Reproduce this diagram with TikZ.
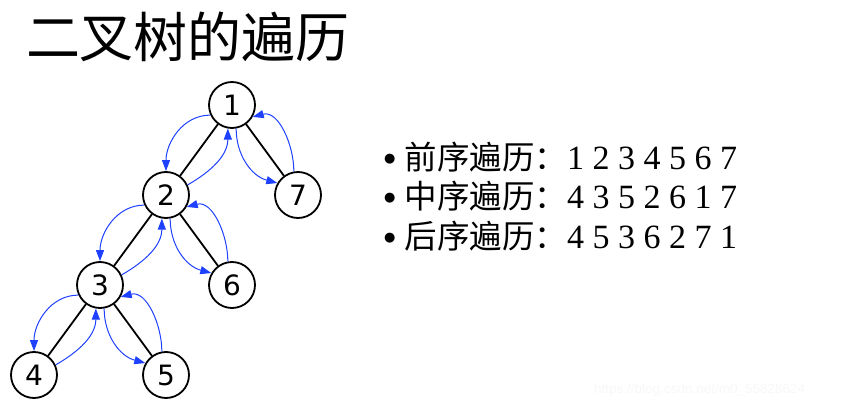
\documentclass[tikz,border=0pt]{standalone}
\usepackage{fontspec}
\setmainfont{Liberation Serif}
\newfontfamily\cjk{Noto Sans CJK SC}
\newfontfamily\digitfont{DejaVu Sans}
\newfontfamily\markfont{Liberation Sans}
\usetikzlibrary{positioning,arrows.meta}
\definecolor{travblue}{RGB}{30,64,255}
\newcommand{\dotmark}{\raisebox{6.5pt}{\digitfont\fontsize{13}{13}\selectfont ●}}

\begin{document}
\begin{tikzpicture}[x=1pt,y=1pt]
 \tikzstyle{vertex} = [circle,draw=black,line width=1.8pt,minimum size=46pt,inner sep=0pt,font=\digitfont\fontsize{28}{28}\selectfont];
 \tikzstyle{branch} = [draw=black,line width=1.8pt];
 \tikzstyle{walk}   = [->,>={Triangle[length=11pt,width=8pt]},draw=travblue,line width=1pt];
 \tikzstyle{order}  = [anchor=base west,inner sep=0pt,font=\fontsize{34}{40}\selectfont];

 \useasboundingbox (0,0) rectangle (852,408);

 %% title
 \node[font=\cjk\fontsize{54}{54}\selectfont] (title) at (188,371) {二叉树的遍历};

 %% tree
 \begin{scope}[node distance=90pt and 66pt, on grid]
   \node[vertex] (n1) at (232,303) {1};
   \node[vertex, below left=of n1]  (n2) {2};
   \node[vertex, below right=of n1] (n7) {7};
   \node[vertex, below left=of n2]  (n3) {3};
   \node[vertex, below right=of n2] (n6) {6};
   \node[vertex, below left=of n3]  (n4) {4};
   \node[vertex, below right=of n3] (n5) {5};
 \end{scope}

 \path (n1) edge [branch] (n2);
 \path (n1) edge [branch] (n7);
 \path (n2) edge [branch] (n3);
 \path (n2) edge [branch] (n6);
 \path (n3) edge [branch] (n4);
 \path (n3) edge [branch] (n5);

 %% walk round 1
 \draw[walk] (n1.205) to[out=180,in=90] (n2.90);
 \draw[walk] (n2.25)  to[out=30,in=270] (n1.260);
 \draw[walk] (n1.280) to[out=270,in=165] (n7.150);
 \draw[walk] (n7.100) to[out=90,in=15] (n1.-30);

 %% walk round 2
 \draw[walk] (n2.205) to[out=180,in=90] (n3.90);
 \draw[walk] (n3.25)  to[out=30,in=270] (n2.260);
 \draw[walk] (n2.280) to[out=270,in=165] (n6.150);
 \draw[walk] (n6.100) to[out=90,in=15] (n2.-30);

 %% walk round 3
 \draw[walk] (n3.205) to[out=180,in=90] (n4.90);
 \draw[walk] (n4.25)  to[out=30,in=270] (n3.260);
 \draw[walk] (n3.280) to[out=270,in=165] (n5.150);
 \draw[walk] (n5.100) to[out=90,in=15] (n3.-30);

 %% orders
 \node[order] (pre)  at (384,239) {\dotmark\hspace{9pt}{\cjk\fontsize{32.5}{40}\selectfont 前序遍历：}1 2 3 4 5 6 7};
 \node[order] (in)   at (384,200) {\dotmark\hspace{9pt}{\cjk\fontsize{32.5}{40}\selectfont 中序遍历：}4 3 5 2 6 1 7};
 \node[order] (post) at (384,160) {\dotmark\hspace{9pt}{\cjk\fontsize{32.5}{40}\selectfont 后序遍历：}4 5 3 6 2 7 1};

 \node[anchor=base west,inner sep=0pt,text=black!3,font=\markfont\fontsize{13.5}{14}\selectfont] (mark) at (594,15) {https://blog.csdn.net/m0\_55828624};
\end{tikzpicture}
\end{document}
